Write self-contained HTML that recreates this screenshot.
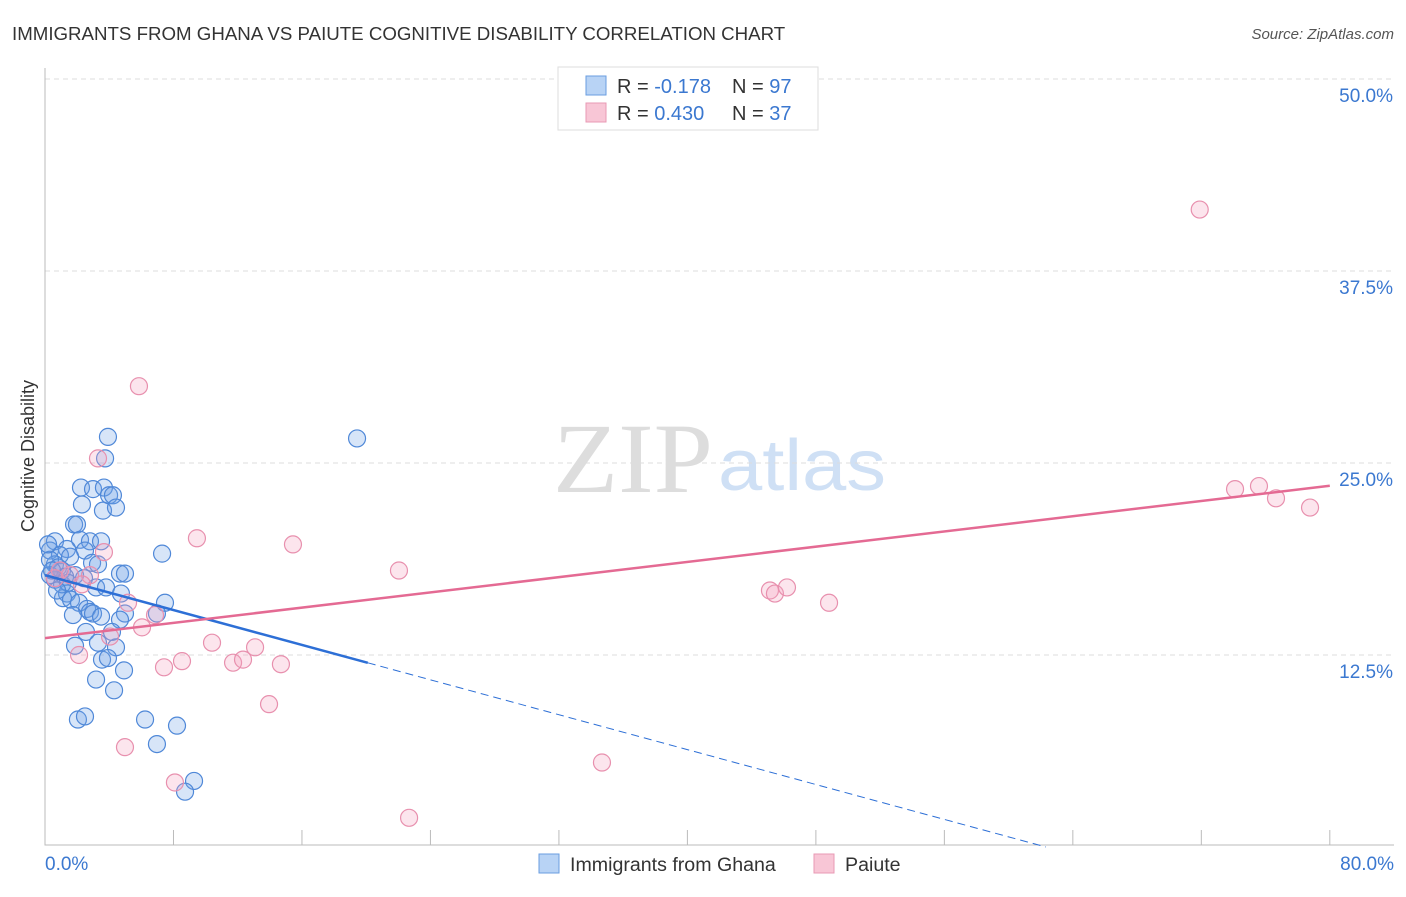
<!DOCTYPE html>
<html><head><meta charset="utf-8"><style>
body{margin:0;background:#fff;font-family:"Liberation Sans",sans-serif}
</style></head><body>
<svg id="c" width="1406" height="892" font-family="Liberation Sans, sans-serif">
<text x="12" y="40" font-size="18.7" fill="#333">IMMIGRANTS FROM GHANA VS PAIUTE COGNITIVE DISABILITY CORRELATION CHART</text>
<text x="1394" y="39" font-size="15" fill="#555" font-style="italic" text-anchor="end">Source: ZipAtlas.com</text>
<text x="553" y="492" font-size="100" fill="#ddd" style="font-family:'Liberation Serif',serif" textLength="160" lengthAdjust="spacingAndGlyphs">ZIP</text>
<text x="718" y="490" font-size="72" fill="#cfe0f5" textLength="168" lengthAdjust="spacingAndGlyphs">atlas</text>
<g id="grid"></g><g id="axes"></g><g id="pts"></g><g id="lines"></g>
<text transform="translate(34,456) rotate(-90)" font-size="18" fill="#333" text-anchor="middle">Cognitive Disability</text>
<text x="45" y="870" font-size="19" fill="#3b78d0">0.0%</text>
<text x="1394" y="870" font-size="19" fill="#3b78d0" text-anchor="end">80.0%</text>
<g>
<rect x="558" y="67" width="260" height="63" fill="#fff" stroke="#ddd"/>
<rect x="586" y="76" width="20" height="19" fill="#b8d3f5" stroke="#6a9ee0"/>
<rect x="586" y="103" width="20" height="19" fill="#f8c6d6" stroke="#e89ab4"/>
<text x="617" y="93" font-size="20" fill="#333">R = <tspan fill="#3b78d0">-0.178</tspan><tspan x="732">N = </tspan><tspan fill="#3b78d0">97</tspan></text>
<text x="617" y="120" font-size="20" fill="#333">R = <tspan fill="#3b78d0"> 0.430</tspan><tspan x="732">N = </tspan><tspan fill="#3b78d0">37</tspan></text>
</g>
<g>
<rect x="539" y="854" width="20" height="19" fill="#b8d3f5" stroke="#6a9ee0"/>
<text x="570" y="871" font-size="19.6" fill="#333">Immigrants from Ghana</text>
<rect x="814" y="854" width="20" height="19" fill="#f8c6d6" stroke="#e89ab4"/>
<text x="845" y="871" font-size="19.6" fill="#333">Paiute</text>
</g>
</svg>
<script>
const yTicks=[12.5,25,37.5,50];
const yTickLabels=["12.5%","25.0%","37.5%","50.0%"];
const blueX=[3.92,3.74,2.24,2.99,3.67,3.99,4.23,2.30,3.61,4.42,1.81,1.99,2.18,2.80,3.49,0.62,1.37,2.49,7.29,0.31,0.93,1.56,2.93,3.30,4.67,4.98,0.62,1.06,1.87,0.31,2.43,3.18,3.80,4.73,1.37,1.12,1.62,2.12,7.47,2.62,2.80,2.99,4.98,6.97,1.74,3.49,4.67,4.17,2.55,3.30,4.42,1.87,3.55,3.92,4.92,3.18,4.30,2.05,2.49,6.23,8.22,6.97,9.28,8.72,19.43,0.31,0.62,1.06,0.81,1.25,0.19,0.44,1.43,0.75];
const blueY=[26.7,25.3,23.4,23.3,23.4,22.9,22.9,22.3,21.9,22.1,21.0,21.0,20.0,19.9,19.9,19.9,19.4,19.3,19.1,19.3,19.0,18.9,18.5,18.4,17.8,17.8,18.4,18.0,17.7,17.7,17.5,16.9,16.9,16.5,16.5,16.2,16.1,15.9,15.9,15.5,15.3,15.2,15.2,15.2,15.1,15.0,14.8,14.0,14.0,13.3,13.0,13.1,12.2,12.3,11.5,10.9,10.2,8.3,8.5,8.3,7.9,6.7,4.3,3.6,26.6,18.7,17.4,17.1,18.2,17.6,19.7,18.0,17.2,16.7];
const pinkX=[71.9,5.85,3.30,9.46,15.44,3.67,22.04,45.14,45.45,46.20,48.82,74.10,75.59,76.65,78.77,5.17,6.85,6.04,10.40,4.05,2.12,8.53,7.41,11.71,12.33,13.08,14.69,13.95,4.98,8.09,34.68,22.67,0.93,0.62,1.56,2.80,2.30];
const pinkY=[41.5,30.0,25.3,20.1,19.7,19.2,18.0,16.7,16.5,16.9,15.9,23.3,23.5,22.7,22.1,15.9,15.1,14.3,13.3,13.7,12.5,12.1,11.7,12.0,12.2,13.0,11.9,9.3,6.5,4.2,5.5,1.9,18.0,17.5,17.7,17.7,17.1];
const blueTrend=[17.7,-0.284];
const pinkTrend=[13.6,0.124];
const X=v=>45+v*16.06, Y=v=>847-v*15.36;
const NS="http://www.w3.org/2000/svg";
function mk(t,a,p){const e=document.createElementNS(NS,t);for(const k in a)e.setAttribute(k,a[k]);p.appendChild(e);return e;}
const grid=document.getElementById('grid'),axes=document.getElementById('axes'),pts=document.getElementById('pts'),lines=document.getElementById('lines');
yTicks.forEach((t,i)=>{
 const l=mk('line',{x1:45,x2:1394,y1:Y(t),y2:Y(t),stroke:'#ddd','stroke-dasharray':'5,4'},grid);
 
 
 const tx=mk('text',{x:1393,y:Y(t)+23,'font-size':19,fill:'#3b78d0','text-anchor':'end'},grid);
 tx.textContent=yTickLabels[i];
 
 
});
const ax=mk('path',{d:'M45,68V845H1394',stroke:'#bbb',fill:'none'},axes);


for(let v=0;v<=80;v+=8){
 const t=mk('line',{x1:X(v),x2:X(v),y1:830,y2:845,stroke:'#bbb'},axes);
 
 
}
function dots(xs,ys,fill,stroke,name){
 xs.forEach((x,i)=>{
  const c=mk('circle',{cx:X(x),cy:Y(ys[i]),r:8.5,fill:fill,stroke:stroke,'stroke-width':1.2},pts);
  
  
 });
}
dots(blueX,blueY,'rgba(110,160,230,0.28)','#4f88d8','ghana-point');
dots(pinkX,pinkY,'rgba(245,160,190,0.28)','#e890ae','paiute-point');
const bEnd=20.1, bZero=-blueTrend[0]/blueTrend[1];
const bl=mk('line',{x1:X(0),y1:Y(blueTrend[0]),x2:X(bEnd),y2:Y(blueTrend[0]+blueTrend[1]*bEnd),stroke:'#2d6fd6','stroke-width':2.5},lines);


const bd=mk('line',{x1:X(bEnd),y1:Y(blueTrend[0]+blueTrend[1]*bEnd),x2:X(bZero),y2:Y(0),stroke:'#2d6fd6','stroke-width':1,'stroke-dasharray':'8,5'},lines);


const pl=mk('line',{x1:X(0),y1:Y(pinkTrend[0]),x2:X(80),y2:Y(pinkTrend[0]+pinkTrend[1]*80),stroke:'#e46a93','stroke-width':2.5},lines);


</script>
</body></html>
